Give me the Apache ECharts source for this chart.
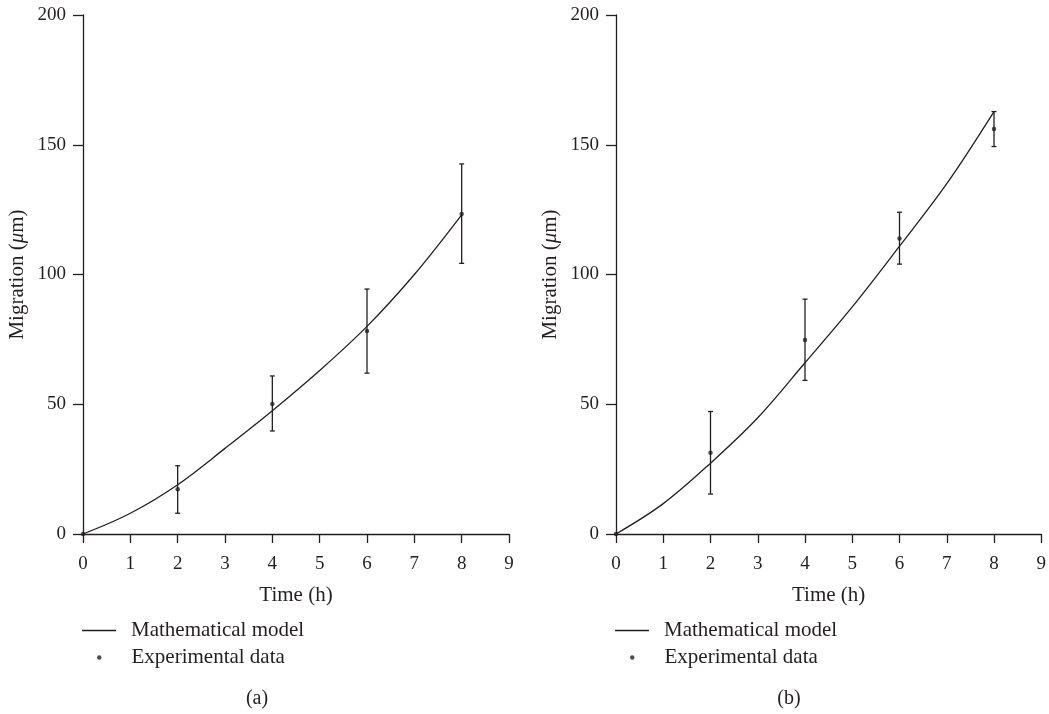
<!DOCTYPE html>
<html>
<head>
<meta charset="utf-8">
<script src="https://cdn.jsdelivr.net/npm/echarts@6/dist/echarts.min.js"></script>
<style>html,body{margin:0;padding:0;background:#fff}#c{width:1049px;height:714px}</style>
</head>
<body>
<div id="c"></div>
<script>
// ---- data ----
var xTicks = [0,1,2,3,4,5,6,7,8,9];
var yTicks = [0,50,100,150,200];
var modelTime = [0,1,2,3,4,5,6,7,8];
var modelA = [0, 8, 19, 33, 47.5, 63, 80, 100, 123];
var modelB = [0, 11.7, 27.3, 44.8, 66, 87.5, 110.9, 135, 162.8];
var expTime = [0,2,4,6,8];
var expA = [0, 17.2, 50.1, 78.2, 123.3];
var expB = [0, 31.3, 74.8, 113.9, 156.1];
var errTime = [2,4,6,8];
var errLowA = [8.0, 39.7, 62.0, 104.3];
var errHighA = [26.3, 60.9, 94.4, 142.6];
var errLowB = [15.4, 59.2, 104.0, 149.3];
var errHighB = [47.2, 90.5, 124.0, 162.8];
var panelLabels = ['(a)', '(b)'];

var INK = '#231f20';
var FONT = 'Liberation Serif';

function pairs(xs, ys){ return xs.map(function(x,i){ return [x, ys[i]]; }); }
function errData(xs, lo, hi){ return xs.map(function(x,i){ return [x, lo[i], hi[i]]; }); }

function errRender(params, api){
  var x = api.value(0);
  var lo = api.coord([x, api.value(1)]);
  var hi = api.coord([x, api.value(2)]);
  var w = 2.5;
  var st = {stroke: INK, lineWidth: 1.3};
  return {type:'group', children:[
    {type:'line', shape:{x1:lo[0], y1:lo[1], x2:hi[0], y2:hi[1]}, style:st},
    {type:'line', shape:{x1:lo[0]-w, y1:lo[1], x2:lo[0]+w, y2:lo[1]}, style:st},
    {type:'line', shape:{x1:hi[0]-w, y1:hi[1], x2:hi[0]+w, y2:hi[1]}, style:st}
  ]};
}

var grids = [
  {left:83, top:15, width:426, height:519},
  {left:616, top:15, width:427, height:519}
];

function xAxis(i){
  return {
    type:'value', gridIndex:i, min:0, max:9, interval:1,
    name:'Time (h)', nameLocation:'middle', nameGap:51,
    nameTextStyle:{fontFamily:FONT, fontSize:21, color:INK},
    axisLine:{show:true, onZero:false, lineStyle:{color:INK, width:1.3}},
    axisTick:{show:true, length:9, lineStyle:{color:INK, width:1.3}},
    axisLabel:{fontFamily:FONT, fontSize:19, color:INK, margin:21},
    splitLine:{show:false}
  };
}
function yAxis(i){
  return {
    type:'value', gridIndex:i, min:0, max:200, interval:50,
    name:'Migration ({it|μ}m)', nameLocation:'middle', nameGap:55, nameRotate:90,
    nameTextStyle:{fontFamily:FONT, fontSize:21, color:INK,
      rich:{it:{fontFamily:FONT, fontSize:21, color:INK, fontStyle:'italic'}}},
    axisLine:{show:true, onZero:false, lineStyle:{color:INK, width:1.3}},
    axisTick:{show:true, length:10, lineStyle:{color:INK, width:1.3}},
    axisLabel:{fontFamily:FONT, fontSize:19, color:INK, margin:17},
    splitLine:{show:false}
  };
}

var series = [];
[[modelA, expA, errLowA, errHighA], [modelB, expB, errLowB, errHighB]].forEach(function(d, i){
  series.push({
    name:'Mathematical model', type:'line', xAxisIndex:i, yAxisIndex:i,
    data: pairs(modelTime, d[0]), smooth:0.35, symbol:'none',
    lineStyle:{color:INK, width:1.3}, itemStyle:{color:INK}, silent:true, z:2
  });
  series.push({
    name:'Experimental data', type:'scatter', xAxisIndex:i, yAxisIndex:i,
    data: pairs(expTime, d[1]), symbol:'circle', symbolSize:4.5,
    itemStyle:{color:INK}, silent:true, z:3
  });
  series.push({
    name:'err'+i, type:'custom', xAxisIndex:i, yAxisIndex:i,
    data: errData(errTime, d[2], d[3]), renderItem: errRender, silent:true, z:3
  });
});

var legendText = {fontFamily:FONT, fontSize:21, color:INK};
var legends = [];
[82, 615].forEach(function(lx){
  legends.push({
    left:lx, top:620, padding:0, itemWidth:34, itemHeight:1.3, selectedMode:false,
    data:[{name:'Mathematical model', icon:'rect', itemStyle:{color:INK}}],
    textStyle:Object.assign({padding:[0,0,0,10]}, legendText)
  });
  legends.push({
    left:lx+15, top:647, padding:0, itemWidth:4.5, itemHeight:4.5, selectedMode:false,
    data:[{name:'Experimental data', icon:'circle'}],
    textStyle:Object.assign({padding:[0,0,0,25]}, legendText)
  });
});

var titles = [
  {text:panelLabels[0], left:257, top:689, textAlign:'center', padding:0,
   textStyle:{fontFamily:FONT, fontSize:20, fontWeight:'normal', color:INK}},
  {text:panelLabels[1], left:789, top:689, textAlign:'center', padding:0,
   textStyle:{fontFamily:FONT, fontSize:20, fontWeight:'normal', color:INK}}
];

var chart = echarts.init(document.getElementById('c'), null, {renderer:'canvas'});
chart.setOption({
  animation:false,
  backgroundColor:'#ffffff',
  title: titles,
  legend: legends,
  grid: grids,
  xAxis: [xAxis(0), xAxis(1)],
  yAxis: [yAxis(0), yAxis(1)],
  series: series
});
</script>
</body>
</html>
